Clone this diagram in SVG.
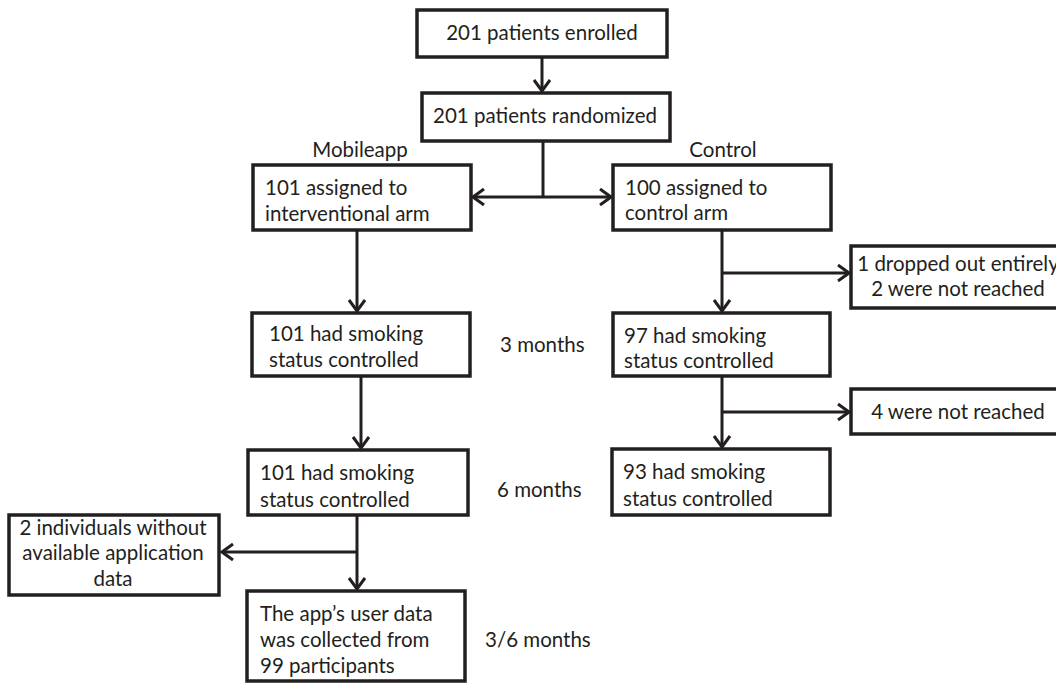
<svg xmlns="http://www.w3.org/2000/svg" width="1056" height="685" viewBox="0 0 1056 685">
<style>
.box{fill:#fff;stroke:#231f20;stroke-width:3.5}
.t{font-family:Lato,"Liberation Sans",sans-serif;font-size:20.5px;fill:#231f20}
.c{text-anchor:middle}
.ln{fill:none;stroke:#231f20;stroke-width:3}
</style>
<defs>
<marker id="arr" markerUnits="userSpaceOnUse" viewBox="0 0 14 18" refX="12" refY="9" markerWidth="14" markerHeight="18" orient="auto">
<path d="M1,1 L12,9 L1,17" fill="none" stroke="#231f20" stroke-width="3"/>
</marker>
</defs>
<rect width="1056" height="685" fill="#fff"/>
<g id="connectors">
<path class="ln" d="M542,57 L542,91" marker-end="url(#arr)"/>
<path class="ln" d="M543,141 L543,197"/>
<path class="ln" d="M543,197 L473,197" marker-end="url(#arr)"/>
<path class="ln" d="M543,197 L611,197" marker-end="url(#arr)"/>
<path class="ln" d="M357,230 L357,311" marker-end="url(#arr)"/>
<path class="ln" d="M361,376 L361,448" marker-end="url(#arr)"/>
<path class="ln" d="M357,515 L357,589" marker-end="url(#arr)"/>
<path class="ln" d="M357,552 L222,552" marker-end="url(#arr)"/>
<path class="ln" d="M722,230 L722,311" marker-end="url(#arr)"/>
<path class="ln" d="M722,273 L849,273" marker-end="url(#arr)"/>
<path class="ln" d="M722,376 L722,447" marker-end="url(#arr)"/>
<path class="ln" d="M722,412 L849,412" marker-end="url(#arr)"/>
</g>
<g id="enrolled"><rect class="box" x="417" y="10" width="250" height="47"/><text class="t c" x="542" y="40">201 patients enrolled</text></g>
<g id="randomized"><rect class="box" x="422" y="93" width="248" height="48"/><text class="t c" x="545" y="123">201 patients randomized</text></g>
<g id="label-mobileapp"><text class="t c" x="360" y="157">Mobileapp</text></g>
<g id="label-control"><text class="t c" x="723" y="157">Control</text></g>
<g id="interventional"><rect class="box" x="253" y="165" width="218" height="65"/><text class="t" x="265" y="195">101 assigned to</text><text class="t" x="265" y="221">interventional arm</text></g>
<g id="controlarm"><rect class="box" x="613" y="165" width="218" height="65"/><text class="t" x="625" y="195">100 assigned to</text><text class="t" x="625" y="220">control arm</text></g>
<g id="dropped"><rect class="box" x="851" y="246" width="215" height="62"/><text class="t c" x="958" y="271">1 dropped out entirely</text><text class="t c" x="958" y="296">2 were not reached</text></g>
<g id="int3"><rect class="box" x="252" y="313" width="218" height="63"/><text class="t" x="269" y="341">101 had smoking</text><text class="t" x="269" y="367">status controlled</text></g>
<g id="label-3m"><text class="t" x="500" y="352">3 months</text></g>
<g id="ctl3"><rect class="box" x="613" y="313" width="217" height="63"/><text class="t" x="624" y="343">97 had smoking</text><text class="t" x="624" y="368">status controlled</text></g>
<g id="notreached"><rect class="box" x="851" y="389" width="215" height="45"/><text class="t c" x="958" y="419">4 were not reached</text></g>
<g id="int6"><rect class="box" x="248" y="450" width="220" height="65"/><text class="t" x="260" y="480">101 had smoking</text><text class="t" x="260" y="507">status controlled</text></g>
<g id="label-6m"><text class="t" x="497" y="497">6 months</text></g>
<g id="ctl6"><rect class="box" x="612" y="449" width="218" height="66"/><text class="t" x="623" y="479">93 had smoking</text><text class="t" x="623" y="506">status controlled</text></g>
<g id="noappdata"><rect class="box" x="9" y="515" width="210" height="80"/><text class="t c" x="113" y="535">2 individuals without</text><text class="t c" x="113" y="560">available application</text><text class="t c" x="113" y="586">data</text></g>
<g id="appdata"><rect class="box" x="247" y="591" width="218" height="90"/><text class="t" x="260" y="621">The app’s user data</text><text class="t" x="260" y="647">was collected from</text><text class="t" x="260" y="673">99 participants</text></g>
<g id="label-36m"><text class="t" x="485" y="647">3/6 months</text></g>
</svg>
